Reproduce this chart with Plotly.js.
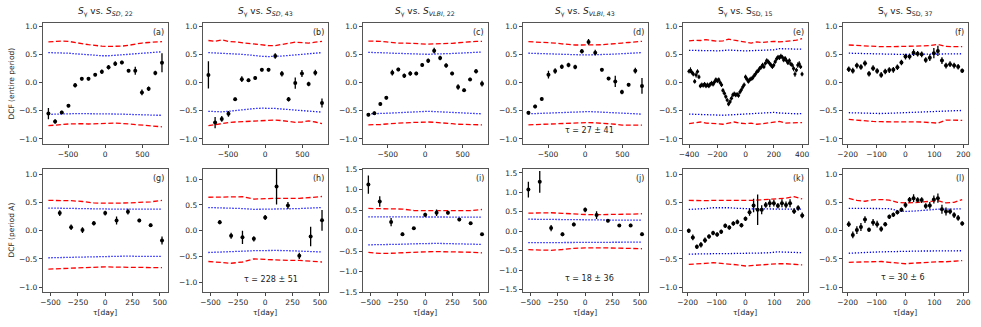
<!DOCTYPE html>
<html>
<head>
<meta charset="utf-8">
<script src="https://cdn.plot.ly/plotly-3.0.1.min.js"></script>
<style>
    body { margin: 0; background: #fff; }
    #myPlot { width: 981px; height: 327px; }
</style>
</head>
<body>
<div id="myPlot"></div>
<script>
// lags (days)
const lagA = [-765, -675, -585, -495, -405, -315, -225, -135, -45, 45, 135, 225, 315, 405, 495, 585, 675, 765];
const lagC = [-760, -680, -600, -520, -440, -360, -280, -200, -120, -40, 40, 120, 200, 280, 360, 440, 520, 600, 680, 760];
const lagE = [-400, -390, -380, -370, -360, -350, -340, -330, -320, -310, -300, -290, -280, -270, -260, -250, -240, -230, -220, -210,
    -200, -190, -180, -170, -160, -150, -140, -130, -120, -110, -100, -90, -80, -70, -60, -50, -40, -30, -20, -10,
    0, 10, 20, 30, 40, 50, 60, 70, 80, 90, 100, 110, 120, 130, 140, 150, 160, 170, 180, 190,
    200, 210, 220, 230, 240, 250, 260, 270, 280, 290, 300, 310, 320, 330, 340, 350, 360, 370, 380, 390, 400];
const sigLagE = [-400, -360, -320, -280, -240, -200, -160, -120, -80, -40, 0, 40, 80, 120, 160, 200, 240, 280, 320, 360, 400];
const lagF = [-196, -182, -168, -154, -140, -126, -112, -98, -84, -70, -56, -42, -28, -14, 0, 14, 28, 42, 56, 70, 84, 98, 112, 126, 140, 154, 168, 182, 196];
const sigLagF = [-196, -168, -140, -112, -84, -56, -28, 0, 28, 56, 84, 112, 140, 168, 196];
const lagG = [-520, -416, -312, -208, -104, 0, 104, 208, 312, 416, 520];

// (a) S_gamma vs S_SD,22
const dcfA = [-0.55, -0.69, -0.53, -0.41, -0.05, 0.065, 0.065, 0.14, 0.19, 0.27, 0.335, 0.355, 0.21, 0.21, -0.175, -0.11, 0.17, 0.35];
const errA = [0.1, 0.04, 0.03, 0.03, 0.04, 0.03, 0.03, 0.03, 0.04, 0.04, 0.04, 0.03, 0.03, 0.07, 0.05, 0.04, 0.04, 0.17];
const up99A = [0.72, 0.73, 0.735, 0.73, 0.715, 0.69, 0.67, 0.655, 0.645, 0.64, 0.64, 0.645, 0.66, 0.685, 0.7, 0.71, 0.72, 0.725];
const up95A = [0.53, 0.53, 0.525, 0.52, 0.51, 0.5, 0.49, 0.48, 0.475, 0.475, 0.48, 0.49, 0.5, 0.51, 0.52, 0.53, 0.54, 0.545];
const lo95A = [-0.565, -0.565, -0.56, -0.555, -0.55, -0.55, -0.55, -0.555, -0.555, -0.56, -0.56, -0.56, -0.565, -0.565, -0.57, -0.575, -0.58, -0.58];
const lo99A = [-0.765, -0.76, -0.745, -0.735, -0.73, -0.73, -0.735, -0.73, -0.725, -0.72, -0.72, -0.725, -0.735, -0.75, -0.765, -0.775, -0.78, -0.785];

// (b) S_gamma vs S_SD,43
const dcfB = [0.135, -0.71, -0.645, -0.555, -0.295, 0.06, 0.04, 0.08, 0.225, 0.225, 0.47, 0.155, -0.295, -0.01, 0.16, -0.025, 0.175, -0.365];
const errB = [0.24, 0.1, 0.05, 0.05, 0.03, 0.05, 0.03, 0.03, 0.03, 0.03, 0.05, 0.05, 0.04, 0.1, 0.06, 0.04, 0.05, 0.08];
const up99B = [0.745, 0.73, 0.755, 0.73, 0.72, 0.705, 0.69, 0.675, 0.66, 0.655, 0.655, 0.67, 0.695, 0.715, 0.71, 0.7, 0.715, 0.73];
const up95B = [0.53, 0.525, 0.525, 0.52, 0.51, 0.5, 0.49, 0.475, 0.465, 0.46, 0.46, 0.47, 0.48, 0.49, 0.5, 0.51, 0.52, 0.53];
const lo95B = [-0.51, -0.515, -0.52, -0.51, -0.495, -0.48, -0.47, -0.46, -0.455, -0.455, -0.46, -0.47, -0.48, -0.49, -0.5, -0.51, -0.515, -0.525];
const lo99B = [-0.765, -0.745, -0.73, -0.71, -0.7, -0.695, -0.69, -0.68, -0.67, -0.665, -0.665, -0.675, -0.69, -0.705, -0.7, -0.68, -0.7, -0.73];

// (c) S_gamma vs S_VLBI,22
const dcfC = [-0.57, -0.545, -0.38, -0.27, 0.175, 0.23, 0.12, 0.16, 0.16, 0.31, 0.385, 0.565, 0.435, 0.3, 0.16, -0.08, -0.135, 0.055, 0.2, -0.02];
const errC = [0.03, 0.03, 0.03, 0.03, 0.05, 0.03, 0.04, 0.04, 0.03, 0.03, 0.04, 0.05, 0.04, 0.04, 0.03, 0.05, 0.03, 0.03, 0.04, 0.05];
const up99C = [0.735, 0.735, 0.73, 0.72, 0.705, 0.7, 0.7, 0.695, 0.685, 0.68, 0.68, 0.685, 0.685, 0.69, 0.695, 0.705, 0.715, 0.725, 0.73, 0.73];
const up95C = [0.535, 0.535, 0.53, 0.525, 0.52, 0.515, 0.51, 0.505, 0.5, 0.5, 0.5, 0.505, 0.505, 0.51, 0.515, 0.52, 0.525, 0.53, 0.535, 0.54];
const lo95C = [-0.555, -0.555, -0.55, -0.545, -0.54, -0.535, -0.53, -0.525, -0.52, -0.51, -0.51, -0.515, -0.52, -0.525, -0.53, -0.54, -0.545, -0.55, -0.555, -0.555];
const lo99C = [-0.75, -0.75, -0.745, -0.735, -0.725, -0.72, -0.715, -0.71, -0.705, -0.7, -0.7, -0.705, -0.71, -0.72, -0.73, -0.74, -0.745, -0.75, -0.75, -0.75];

// (d) S_gamma vs S_VLBI,43
const dcfD = [-0.535, -0.425, -0.29, 0.14, 0.205, 0.28, 0.31, 0.275, 0.555, 0.72, 0.53, 0.225, 0.07, 0.02, -0.17, -0.04, 0.21, -0.06];
const errD = [0.03, 0.03, 0.03, 0.07, 0.05, 0.04, 0.04, 0.04, 0.04, 0.05, 0.05, 0.03, 0.03, 0.1, 0.04, 0.03, 0.05, 0.14];
const up99D = [0.725, 0.72, 0.715, 0.715, 0.7, 0.685, 0.67, 0.665, 0.665, 0.665, 0.665, 0.67, 0.68, 0.695, 0.7, 0.71, 0.72, 0.73];
const up95D = [0.52, 0.515, 0.51, 0.505, 0.5, 0.495, 0.49, 0.49, 0.49, 0.49, 0.49, 0.495, 0.5, 0.505, 0.51, 0.52, 0.525, 0.53];
const lo95D = [-0.555, -0.55, -0.545, -0.54, -0.535, -0.53, -0.525, -0.52, -0.515, -0.515, -0.52, -0.525, -0.53, -0.54, -0.545, -0.55, -0.555, -0.56];
const lo99D = [-0.75, -0.745, -0.74, -0.735, -0.73, -0.725, -0.72, -0.715, -0.71, -0.71, -0.715, -0.72, -0.73, -0.74, -0.755, -0.755, -0.755, -0.755];

// (e) S_gamma vs S_SD,15
const dcfE = [0.2, 0.22, 0.18, 0.15, 0.02, 0.135, 0.195, 0.1, -0.06, -0.04, -0.05, -0.03, -0.06, -0.04, -0.06, -0.03, -0.01, -0.03, 0.01, 0.05,
    0.03, 0.05, 0.0, -0.04, -0.14, -0.19, -0.25, -0.31, -0.38, -0.34, -0.28, -0.22, -0.2, -0.22, -0.21, -0.23, -0.17, -0.13, -0.08, -0.04,
    0.1, 0.06, 0.02, 0.05, 0.07, 0.08, 0.12, 0.15, 0.19, 0.21, 0.25, 0.27, 0.31, 0.28, 0.34, 0.39, 0.37, 0.34, 0.31, 0.28,
    0.31, 0.37, 0.42, 0.45, 0.44, 0.47, 0.45, 0.4, 0.43, 0.39, 0.35, 0.39, 0.33, 0.31, 0.25, 0.15, 0.22, 0.31, 0.33, 0.28, 0.15];
const errE = [0.04, 0.05, 0.04, 0.04, 0.04, 0.05, 0.04, 0.04, 0.04, 0.04, 0.04, 0.04, 0.04, 0.04, 0.04, 0.04, 0.04, 0.04, 0.04, 0.04,
    0.04, 0.04, 0.04, 0.04, 0.04, 0.04, 0.04, 0.04, 0.04, 0.04, 0.04, 0.04, 0.04, 0.04, 0.04, 0.04, 0.04, 0.04, 0.04, 0.04,
    0.04, 0.04, 0.04, 0.04, 0.04, 0.04, 0.04, 0.04, 0.04, 0.04, 0.04, 0.04, 0.04, 0.04, 0.04, 0.04, 0.04, 0.04, 0.04, 0.04,
    0.04, 0.04, 0.04, 0.04, 0.04, 0.04, 0.04, 0.04, 0.04, 0.04, 0.04, 0.04, 0.04, 0.04, 0.05, 0.05, 0.04, 0.05, 0.05, 0.04, 0.04];
const up99E = [0.74, 0.75, 0.745, 0.76, 0.745, 0.73, 0.74, 0.77, 0.75, 0.73, 0.72, 0.7, 0.72, 0.71, 0.72, 0.73, 0.72, 0.73, 0.74, 0.75, 0.78];
const up95E = [0.57, 0.57, 0.575, 0.57, 0.565, 0.56, 0.57, 0.575, 0.57, 0.56, 0.56, 0.565, 0.57, 0.57, 0.575, 0.58, 0.6, 0.6, 0.59, 0.59, 0.59];
const lo95E = [-0.56, -0.565, -0.565, -0.57, -0.575, -0.58, -0.58, -0.575, -0.57, -0.56, -0.55, -0.55, -0.55, -0.545, -0.54, -0.53, -0.54, -0.55, -0.55, -0.555, -0.55];
const lo99E = [-0.73, -0.72, -0.7, -0.72, -0.72, -0.73, -0.74, -0.72, -0.7, -0.72, -0.73, -0.72, -0.74, -0.73, -0.72, -0.7, -0.69, -0.72, -0.72, -0.71, -0.71];

// (f) S_gamma vs S_SD,37
const dcfF = [0.235, 0.21, 0.3, 0.275, 0.34, 0.155, 0.255, 0.205, 0.135, 0.195, 0.22, 0.225, 0.27, 0.355, 0.46, 0.46, 0.53, 0.51, 0.5, 0.4, 0.44, 0.52, 0.56, 0.39, 0.3, 0.325, 0.3, 0.28, 0.21];
const errF = [0.05, 0.05, 0.05, 0.05, 0.05, 0.05, 0.05, 0.05, 0.05, 0.05, 0.05, 0.05, 0.05, 0.05, 0.05, 0.05, 0.06, 0.05, 0.05, 0.05, 0.06, 0.09, 0.09, 0.06, 0.05, 0.05, 0.05, 0.05, 0.04];
const up99F = [0.665, 0.655, 0.645, 0.64, 0.635, 0.635, 0.635, 0.64, 0.645, 0.65, 0.655, 0.675, 0.64, 0.635, 0.635];
const up95F = [0.52, 0.515, 0.51, 0.505, 0.5, 0.5, 0.5, 0.5, 0.505, 0.505, 0.505, 0.505, 0.505, 0.505, 0.51];
const lo95F = [-0.535, -0.54, -0.545, -0.55, -0.55, -0.545, -0.54, -0.535, -0.53, -0.525, -0.52, -0.515, -0.51, -0.5, -0.495];
const lo99F = [-0.655, -0.67, -0.68, -0.69, -0.695, -0.695, -0.69, -0.69, -0.695, -0.7, -0.71, -0.72, -0.665, -0.67, -0.67];

// (g) period A, SD,22
const dcfG = [null, 0.31, 0.06, 0.01, 0.13, 0.31, 0.18, 0.335, 0.18, 0.095, -0.175];
const errG = [null, 0.05, 0.05, 0.05, 0.04, 0.04, 0.07, 0.05, 0.03, 0.03, 0.07];
const up99G = [0.535, 0.535, 0.53, 0.515, 0.49, 0.485, 0.485, 0.49, 0.5, 0.51, 0.535];
const up95G = [0.4, 0.395, 0.39, 0.385, 0.38, 0.38, 0.38, 0.38, 0.38, 0.38, 0.38];
const lo95G = [-0.48, -0.475, -0.47, -0.465, -0.46, -0.455, -0.455, -0.45, -0.455, -0.455, -0.455];
const lo99G = [-0.68, -0.67, -0.66, -0.65, -0.64, -0.64, -0.645, -0.65, -0.65, -0.655, -0.655];

// (h) period A, SD,43
const dcfH = [null, 0.165, -0.1, -0.13, -0.16, 0.255, 0.86, 0.49, -0.49, -0.115, 0.2];
const errH = [null, 0.04, 0.06, 0.13, 0.05, 0.05, 0.35, 0.07, 0.06, 0.19, 0.2];
const up99H = [0.65, 0.655, 0.66, 0.66, 0.615, 0.625, 0.63, 0.63, 0.63, 0.645, 0.665];
const up95H = [0.45, 0.445, 0.44, 0.43, 0.415, 0.415, 0.42, 0.425, 0.43, 0.44, 0.45];
const lo95H = [-0.425, -0.42, -0.41, -0.4, -0.39, -0.385, -0.385, -0.39, -0.4, -0.41, -0.415];
const lo99H = [-0.6, -0.62, -0.635, -0.61, -0.55, -0.56, -0.575, -0.58, -0.58, -0.59, -0.61];

// (i) period A, VLBI,22
const dcfI = [1.12, 0.71, 0.21, -0.085, 0.06, 0.385, 0.435, 0.435, 0.27, 0.18, -0.085];
const errI = [0.22, 0.13, 0.1, 0.04, 0.03, 0.05, 0.08, 0.04, 0.04, 0.03, 0.03];
const up99I = [0.54, 0.54, 0.54, 0.525, 0.49, 0.485, 0.485, 0.485, 0.485, 0.49, 0.515];
const up95I = [0.335, 0.335, 0.33, 0.325, 0.32, 0.32, 0.32, 0.32, 0.32, 0.325, 0.33];
const lo95I = [-0.345, -0.345, -0.34, -0.33, -0.32, -0.31, -0.31, -0.315, -0.32, -0.33, -0.335];
const lo99I = [-0.53, -0.555, -0.55, -0.535, -0.52, -0.515, -0.51, -0.51, -0.515, -0.525, -0.54];

// (j) period A, VLBI,43
const dcfJ = [1.07, 1.27, 0.08, -0.08, 0.175, 0.55, 0.415, 0.27, 0.15, 0.15, -0.075];
const errJ = [0.2, 0.28, 0.08, 0.05, 0.05, 0.06, 0.1, 0.04, 0.03, 0.04, 0.04];
const up99J = [0.465, 0.47, 0.475, 0.46, 0.44, 0.43, 0.425, 0.425, 0.43, 0.44, 0.45];
const up95J = [0.31, 0.305, 0.3, 0.295, 0.29, 0.285, 0.285, 0.285, 0.285, 0.285, 0.285];
const lo95J = [-0.295, -0.295, -0.29, -0.285, -0.28, -0.28, -0.28, -0.28, -0.28, -0.28, -0.28];
const lo99J = [-0.475, -0.485, -0.49, -0.47, -0.44, -0.43, -0.425, -0.43, -0.435, -0.445, -0.45];

// (k) period A, SD,15
const dcfK = [0.0, -0.12, -0.285, -0.25, -0.17, -0.105, -0.04, -0.07, -0.02, 0.085, 0.055, 0.125, 0.155, 0.095, 0.21, 0.325, 0.445, 0.37, 0.37, 0.455, 0.485, 0.485, 0.44, 0.485, 0.455, 0.485, 0.345, 0.4, 0.27];
const errK = [0.04, 0.05, 0.04, 0.05, 0.05, 0.04, 0.04, 0.04, 0.04, 0.04, 0.04, 0.04, 0.04, 0.04, 0.04, 0.06, 0.12, 0.27, 0.08, 0.05, 0.07, 0.06, 0.05, 0.07, 0.06, 0.07, 0.05, 0.05, 0.05];
const up99K = [0.535, 0.53, 0.53, 0.535, 0.535, 0.53, 0.53, 0.53, 0.535, 0.545, 0.56, 0.565, 0.575, 0.6, 0.56];
const up95K = [0.375, 0.38, 0.39, 0.405, 0.41, 0.405, 0.395, 0.385, 0.385, 0.385, 0.38, 0.38, 0.38, 0.38, 0.38];
const lo95K = [-0.415, -0.41, -0.41, -0.405, -0.405, -0.405, -0.405, -0.405, -0.4, -0.395, -0.39, -0.375, -0.38, -0.39, -0.39];
const lo99K = [-0.595, -0.59, -0.58, -0.565, -0.575, -0.59, -0.605, -0.625, -0.615, -0.6, -0.59, -0.585, -0.585, -0.59, -0.605];

// (l) period A, SD,37
const dcfL = [0.115, -0.075, 0.01, 0.065, 0.195, 0.015, 0.145, 0.115, 0.03, 0.115, 0.245, 0.28, 0.325, 0.37, 0.455, 0.545, 0.575, 0.54, 0.54, 0.435, 0.445, 0.55, 0.575, 0.38, 0.34, 0.34, 0.275, 0.225, 0.125];
const errL = [0.05, 0.06, 0.07, 0.07, 0.06, 0.04, 0.06, 0.06, 0.05, 0.04, 0.04, 0.04, 0.04, 0.04, 0.05, 0.05, 0.07, 0.05, 0.05, 0.05, 0.06, 0.07, 0.08, 0.08, 0.07, 0.05, 0.05, 0.05, 0.04];
const up99L = [0.57, 0.535, 0.52, 0.545, 0.55, 0.54, 0.5, 0.49, 0.495, 0.51, 0.525, 0.53, 0.49, 0.5, 0.55];
const up95L = [0.395, 0.395, 0.4, 0.4, 0.4, 0.39, 0.355, 0.34, 0.345, 0.36, 0.375, 0.38, 0.38, 0.38, 0.385];
const lo95L = [-0.4, -0.39, -0.385, -0.38, -0.375, -0.37, -0.365, -0.36, -0.36, -0.36, -0.36, -0.36, -0.36, -0.355, -0.355];
const lo99L = [-0.56, -0.555, -0.55, -0.545, -0.545, -0.56, -0.575, -0.585, -0.575, -0.565, -0.555, -0.55, -0.55, -0.545, -0.53];

const titles = [
    '<i>S</i><sub>γ</sub> vs. <i>S</i><sub><i>SD</i>, 22</sub>',
    '<i>S</i><sub>γ</sub> vs. <i>S</i><sub><i>SD</i>, 43</sub>',
    '<i>S</i><sub>γ</sub> vs. <i>S</i><sub><i>VLBI</i>, 22</sub>',
    '<i>S</i><sub>γ</sub> vs. <i>S</i><sub><i>VLBI</i>, 43</sub>',
    'S<sub>γ</sub> vs. S<sub>SD, 15</sub>',
    'S<sub>γ</sub> vs. S<sub>SD, 37</sub>'
];
const panelLabels = ['(a)', '(b)', '(c)', '(d)', '(e)', '(f)', '(g)', '(h)', '(i)', '(j)', '(k)', '(l)'];
const tauTexts = { 3: 'τ = 27 ± 41', 7: 'τ = 228 ± 51', 9: 'τ = 18 ± 36', 11: 'τ = 30 ± 6' };

document.addEventListener('DOMContentLoaded', function () {

    const panels = [
        { lag: lagA, dcf: dcfA, err: errA, sig: lagA, u99: up99A, u95: up95A, l95: lo95A, l99: lo99A, xr: [-842, 842], yr: [-1.09, 1.05], xt: [-500, 0, 500] },
        { lag: lagA, dcf: dcfB, err: errB, sig: lagA, u99: up99B, u95: up95B, l95: lo95B, l99: lo99B, xr: [-842, 842], yr: [-1.09, 1.05], xt: [-500, 0, 500] },
        { lag: lagC, dcf: dcfC, err: errC, sig: lagC, u99: up99C, u95: up95C, l95: lo95C, l99: lo99C, xr: [-836, 836], yr: [-1.09, 1.05], xt: [-500, 0, 500] },
        { lag: lagA, dcf: dcfD, err: errD, sig: lagA, u99: up99D, u95: up95D, l95: lo95D, l99: lo99D, xr: [-842, 842], yr: [-1.09, 1.05], xt: [-500, 0, 500] },
        { lag: lagE, dcf: dcfE, err: errE, sig: sigLagE, u99: up99E, u95: up95E, l95: lo95E, l99: lo99E, xr: [-445, 440], yr: [-1.09, 1.05], xt: [-400, -200, 0, 200, 400] },
        { lag: lagF, dcf: dcfF, err: errF, sig: sigLagF, u99: up99F, u95: up95F, l95: lo95F, l99: lo99F, xr: [-217, 215], yr: [-1.09, 1.05], xt: [-200, -100, 0, 100, 200] },
        { lag: lagG, dcf: dcfG, err: errG, sig: lagG, u99: up99G, u95: up95G, l95: lo95G, l99: lo99G, xr: [-572, 572], yr: [-1.09, 1.09], xt: [-500, -250, 0, 250, 500] },
        { lag: lagG, dcf: dcfH, err: errH, sig: lagG, u99: up99H, u95: up95H, l95: lo95H, l99: lo99H, xr: [-572, 572], yr: [-1.2, 1.2], xt: [-500, -250, 0, 250, 500] },
        { lag: lagG, dcf: dcfI, err: errI, sig: lagG, u99: up99I, u95: up95I, l95: lo95I, l99: lo99I, xr: [-572, 572], yr: [-1.5, 1.5], xt: [-500, -250, 0, 250, 500] },
        { lag: lagG, dcf: dcfJ, err: errJ, sig: lagG, u99: up99J, u95: up95J, l95: lo95J, l99: lo99J, xr: [-572, 572], yr: [-1.57, 1.6], xt: [-500, -250, 0, 250, 500] },
        { lag: lagF, dcf: dcfK, err: errK, sig: sigLagF, u99: up99K, u95: up95K, l95: lo95K, l99: lo99K, xr: [-217, 215], yr: [-1.09, 1.09], xt: [-200, -100, 0, 100, 200] },
        { lag: lagF, dcf: dcfL, err: errL, sig: sigLagF, u99: up99L, u95: up95L, l95: lo95L, l99: lo99L, xr: [-217, 215], yr: [-1.09, 1.09], xt: [-200, -100, 0, 100, 200] }
    ];

    const W = 981, H = 327;
    const fontFam = 'DejaVu Sans, sans-serif';
    const textColor = '#222';
    const fmt = (v, d) => (v < 0 ? '−' : '') + Math.abs(v).toFixed(d);

    const traces = [];
    const layout = {
        width: W,
        height: H,
        margin: { l: 0, r: 0, t: 0, b: 0 },
        paper_bgcolor: '#fff',
        plot_bgcolor: '#fff',
        showlegend: false,
        font: { family: fontFam, size: 7.5, color: textColor },
        annotations: []
    };

    panels.forEach((p, i) => {
        const row = i < 6 ? 0 : 1;
        const col = i % 6;
        const xa = i === 0 ? 'x' : 'x' + (i + 1);
        const ya = i === 0 ? 'y' : 'y' + (i + 1);
        const left = 42.7 + 160 * col;
        const top = row === 0 ? 23.3 : 169;
        const bottom = row === 0 ? 144 : 292.3;

        // significance levels
        const sigLine = (y, color, dash, width) => ({
            x: p.sig, y: y, xaxis: xa, yaxis: ya,
            type: 'scatter', mode: 'lines',
            line: { color: color, dash: dash, width: width },
            hoverinfo: 'skip'
        });
        traces.push(sigLine(p.u99, '#ff0000', '5px,2.5px', 1.3));
        traces.push(sigLine(p.l99, '#ff0000', '5px,2.5px', 1.3));
        traces.push(sigLine(p.u95, '#0000ff', '1.3px,1.7px', 1.3));
        traces.push(sigLine(p.l95, '#0000ff', '1.3px,1.7px', 1.3));

        // dcf points
        const dense = p.lag.length > 40;
        traces.push({
            x: p.lag, y: p.dcf, xaxis: xa, yaxis: ya,
            type: 'scatter', mode: 'markers',
            marker: { color: '#000', size: dense ? 3.2 : 4 },
            error_y: { type: 'data', array: p.err, visible: true, color: '#000', thickness: dense ? 1 : 1.3, width: 0 }
        });

        const yticks = p.yr[1] > 1.3 ? [-1.5, -1, -0.5, 0, 0.5, 1, 1.5] : [-1, -0.5, 0, 0.5, 1];

        const axisBase = {
            showgrid: false,
            zeroline: false,
            showline: true,
            mirror: true,
            linecolor: '#555',
            linewidth: 1,
            ticks: 'outside',
            ticklen: 3,
            tickwidth: 1,
            tickcolor: '#444',
            tickfont: { family: fontFam, size: 7.5, color: textColor },
            fixedrange: true
        };

        layout['xaxis' + (i === 0 ? '' : i + 1)] = Object.assign({}, axisBase, {
            anchor: ya,
            domain: [left / W, (left + 125) / W],
            range: p.xr,
            tickmode: 'array',
            tickvals: p.xt,
            ticktext: p.xt.map(v => fmt(v, 0))
        });
        layout['yaxis' + (i === 0 ? '' : i + 1)] = Object.assign({}, axisBase, {
            anchor: xa,
            domain: [1 - bottom / H, 1 - top / H],
            range: p.yr,
            tickmode: 'array',
            tickvals: yticks,
            ticktext: yticks.map(v => fmt(v, 1))
        });

        // panel letter
        layout.annotations.push({
            text: panelLabels[i], showarrow: false,
            xref: xa + ' domain', yref: ya + ' domain',
            x: 0.985, y: 0.975, xanchor: 'right', yanchor: 'top',
            font: { size: 8, color: textColor }
        });

        if (row === 0) {
            layout.annotations.push({
                text: titles[col], showarrow: false,
                xref: 'paper', yref: 'paper',
                x: (left + 62.5) / W, y: 1 - 20 / H,
                xanchor: 'center', yanchor: 'bottom',
                font: { size: 9, color: textColor }
            });
        } else {
            layout.annotations.push({
                text: 'τ[day]', showarrow: false,
                xref: 'paper', yref: 'paper',
                x: (left + 62.5) / W, y: 1 - 312 / H,
                xanchor: 'center', yanchor: 'middle',
                font: { size: 7.5, color: textColor }
            });
        }

        if (tauTexts[i]) {
            const pos = { 3: [0.532, 0.112], 7: [0.548, 0.105], 9: [0.538, 0.11], 11: [0.485, 0.118] }[i];
            layout.annotations.push({
                text: tauTexts[i], showarrow: false,
                xref: xa + ' domain', yref: ya + ' domain',
                x: pos[0], y: pos[1], xanchor: 'center', yanchor: 'middle',
                font: { size: 8, color: textColor }
            });
        }
    });

    // row y titles
    layout.annotations.push({
        text: 'DCF (entire period)', showarrow: false, textangle: -90,
        xref: 'paper', yref: 'paper', x: 12 / W, y: 1 - 83.6 / H,
        xanchor: 'center', yanchor: 'middle',
        font: { size: 7.5, color: textColor }
    });
    layout.annotations.push({
        text: 'DCF (period A)', showarrow: false, textangle: -90,
        xref: 'paper', yref: 'paper', x: 12 / W, y: 1 - 230.6 / H,
        xanchor: 'center', yanchor: 'middle',
        font: { size: 7.5, color: textColor }
    });

    Plotly.newPlot('myPlot', traces, layout, { displayModeBar: false, staticPlot: true });
});
</script>
</body>
</html>
